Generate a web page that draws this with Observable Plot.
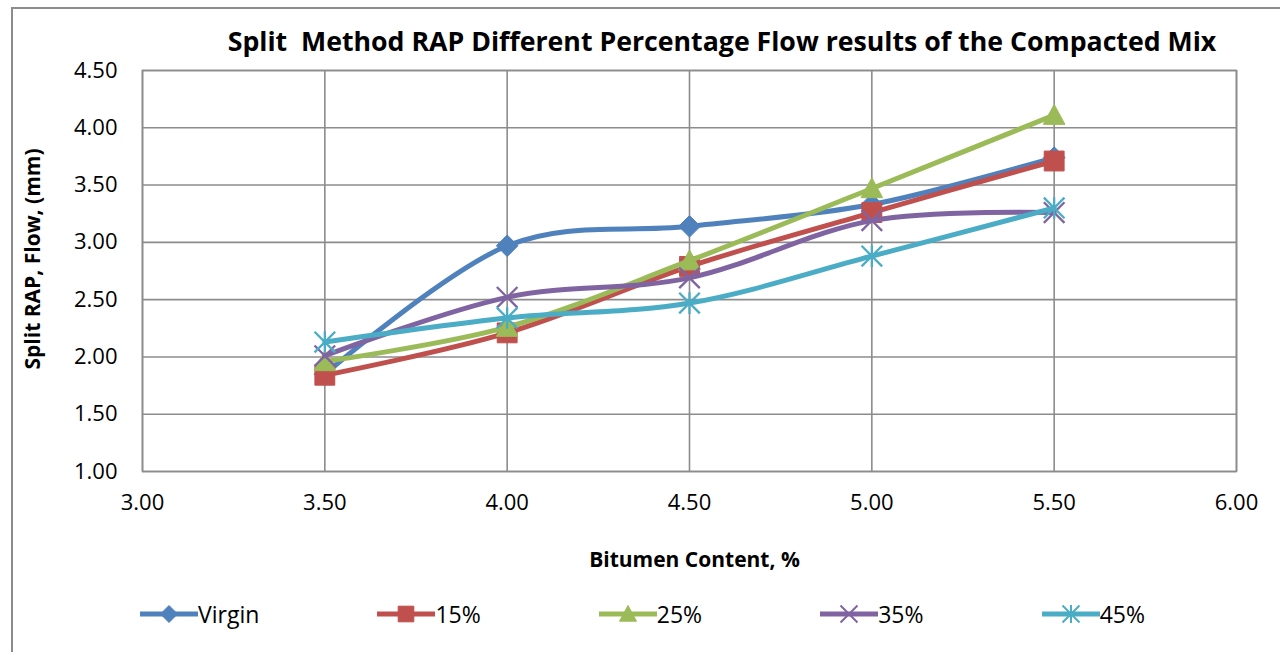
<!DOCTYPE html>
<html>
<head>
<meta charset="utf-8">
<script src="https://cdn.jsdelivr.net/npm/d3@7"></script>
<script src="https://cdn.jsdelivr.net/npm/@observablehq/plot@0.6"></script>
<style>
  html, body { margin: 0; padding: 0; background: #fff; }
  #chart { position: relative; width: 1280px; height: 652px; overflow: hidden; font-family: "Open Sans", sans-serif; color: #000; }
  #border { position: absolute; left: 11px; top: 7px; width: 1320px; height: 700px; border-left: 2px solid #8c8c8c; border-top: 2px solid #8c8c8c; }
  #title { position: absolute; left: 126px; width: 1192px; top: 26px; line-height: 30px; text-align: center; white-space: pre; font-weight: bold; font-size: 26.7px; }
  #plot { position: absolute; left: 0; top: 0; }
  #legend { position: absolute; left: 140px; width: 1005px; top: 598px; height: 32px; display: flex; justify-content: space-between; align-items: center; }
  .item { display: flex; align-items: center; font-size: 23px; line-height: 32px; }
  .item svg { display: block; }
</style>
</head>
<body>
<div id="chart">
  <div id="border"></div>
  <div id="title"></div>
  <div id="plot"></div>
  <div id="legend"></div>
</div>
<script>
// Flow values (mm) by bitumen content (%)
const bitumen = [3.5, 4.0, 4.5, 5.0, 5.5];
const virgin  = [1.85, 2.97, 3.14, 3.33, 3.74];
const rap15   = [1.84, 2.21, 2.79, 3.26, 3.71];
const rap25   = [1.96, 2.26, 2.84, 3.47, 4.11];
const rap35   = [2.01, 2.52, 2.69, 3.19, 3.26];
const rap45   = [2.13, 2.34, 2.47, 2.88, 3.30];
const seriesNames = ["Virgin", "15%", "25%", "35%", "45%"];
const seriesValues = [virgin, rap15, rap25, rap35, rap45];

const xTicks = [3.0, 3.5, 4.0, 4.5, 5.0, 5.5, 6.0];
const yTicks = [1.0, 1.5, 2.0, 2.5, 3.0, 3.5, 4.0, 4.5];
const titleText = "Split  Method RAP Different Percentage Flow results of the Compacted Mix";
const xLabel = "Bitumen Content, %";
const yLabel = "Split RAP, Flow, (mm)";

const colors = ["#4F81BD", "#C0504D", "#9BBB59", "#8064A2", "#4BACC6"];

// Marker shapes; each spans roughly ±r where size = πr²
const radius = size => Math.sqrt(size / Math.PI);
const diamond = { draw(c, size) { const r = radius(size); c.moveTo(0, -r); c.lineTo(r, 0); c.lineTo(0, r); c.lineTo(-r, 0); c.closePath(); } };
const square = { draw(c, size) { const s = radius(size) * 0.92; c.moveTo(-s, -s); c.lineTo(s, -s); c.lineTo(s, s); c.lineTo(-s, s); c.closePath(); } };
const triangle = { draw(c, size) { const r = radius(size); c.moveTo(0, -r); c.lineTo(r, r * 0.85); c.lineTo(-r, r * 0.85); c.closePath(); } };
const cross = { draw(c, size) { const r = radius(size); c.moveTo(-r, -r); c.lineTo(r, r); c.moveTo(-r, r); c.lineTo(r, -r); } };
const star = { draw(c, size) { const r = radius(size); c.moveTo(-r, -r); c.lineTo(r, r); c.moveTo(-r, r); c.lineTo(r, -r); c.moveTo(0, -r * 1.05); c.lineTo(0, r * 1.05); } };
const symbols = [diamond, square, triangle, cross, star];
const filled = [true, true, true, false, false];

const rows = seriesNames.flatMap((name, i) =>
  bitumen.map((b, j) => ({ series: name, bitumen: b, flow: seriesValues[i][j] })));

document.getElementById("title").textContent = titleText;

const seriesMarks = seriesNames.flatMap((name, i) => {
  const data = rows.filter(d => d.series === name);
  return [
    Plot.line(data, { x: "bitumen", y: "flow", stroke: colors[i], strokeWidth: 5, curve: "cardinal" }),
    Plot.dot(data, {
      x: "bitumen", y: "flow", symbol: symbols[i], r: filled[i] ? 10.8 : 10.3,
      fill: filled[i] ? colors[i] : "none", stroke: colors[i], strokeWidth: filled[i] ? 1 : 2.3
    })
  ];
});

const chart = Plot.plot({
  width: 1280,
  height: 652,
  marginTop: 70,
  marginBottom: 181,
  marginLeft: 142,
  marginRight: 44,
  style: { fontFamily: "Open Sans, sans-serif", fontSize: "22px", color: "#000", background: "transparent", overflow: "visible" },
  x: { domain: [3, 6] },
  y: { domain: [1, 4.5] },
  marks: [
    Plot.gridX(xTicks, { stroke: "#8c8c8c", strokeOpacity: 1, strokeWidth: 1.6 }),
    Plot.gridY(yTicks, { stroke: "#8c8c8c", strokeOpacity: 1, strokeWidth: 1.6 }),
    Plot.frame({ stroke: "#8c8c8c", strokeWidth: 1.6 }),
    Plot.axisX(xTicks, { tickFormat: d3.format(".2f"), tickSize: 0, tickPadding: 23, label: null, fontSize: 22 }),
    Plot.axisY(yTicks, { tickFormat: d3.format(".2f"), tickSize: 0, tickPadding: 25, label: null, fontSize: 22 }),
    Plot.text([xLabel], { text: d => d, frameAnchor: "bottom", dx: 5, dy: 89, lineAnchor: "middle", fontWeight: "bold", fontSize: 21 }),
    Plot.text([yLabel], { text: d => d, frameAnchor: "left", rotate: -90, dx: -109, dy: -12, lineAnchor: "middle", textAnchor: "middle", fontWeight: "bold", fontSize: 21 }),
    ...seriesMarks
  ]
});
document.getElementById("plot").appendChild(chart);

// Legend: line swatch with marker, followed by the series name
const legend = d3.select("#legend");
seriesNames.forEach((name, i) => {
  const item = legend.append("div").attr("class", "item");
  const svg = item.append("svg").attr("width", 58).attr("height", 28);
  svg.append("line").attr("x1", 0).attr("x2", 58).attr("y1", 14).attr("y2", 14)
    .attr("stroke", colors[i]).attr("stroke-width", 5);
  const p = d3.path();
  symbols[i].draw(p, Math.PI * 8.5 * 8.5);
  svg.append("path").attr("d", p.toString()).attr("transform", "translate(29,14)")
    .attr("fill", filled[i] ? colors[i] : "none").attr("stroke", colors[i])
    .attr("stroke-width", filled[i] ? 1 : 2);
  item.append("span").text(name);
});
</script>
</body>
</html>
